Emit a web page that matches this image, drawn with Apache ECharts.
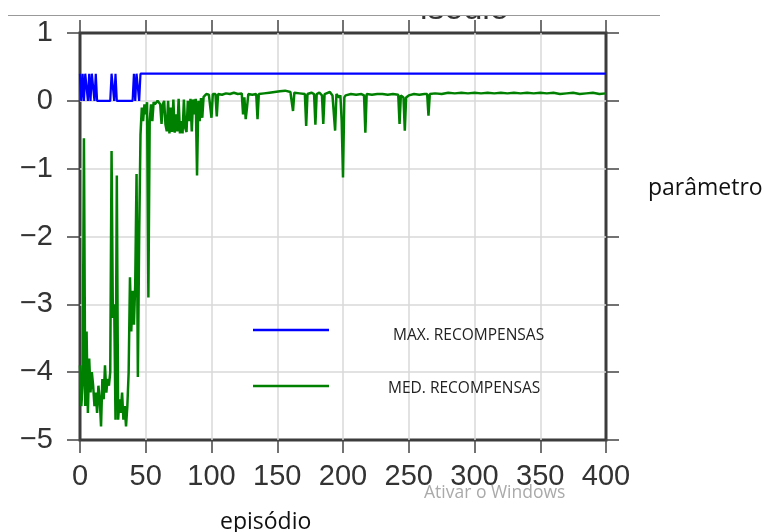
<!DOCTYPE html>
<html>
<head>
<meta charset="utf-8">
<script src="https://cdn.jsdelivr.net/npm/echarts@6/dist/echarts.min.js"></script>
<style>
    html, body { margin: 0; padding: 0; background: #fff; }
    #chart { width: 764px; height: 532px; }
</style>
</head>
<body>
<div id="chart"></div>
<script>
'use strict';

// [episódio, valor]
const maxRecompensas = [
    [0, 0.4], [1, 0], [2, 0.4], [3, 0], [4, 0.4], [5, 0.4], [6, 0], [7, 0.4], [8, 0], [9, 0.4],
    [10, 0.4], [11, 0], [12, 0.4], [13, 0], [23, 0], [24, 0.4], [25, 0.4], [26, 0], [27, 0.4],
    [28, 0], [40, 0], [41, 0.4], [42, 0], [43, 0.4], [44, 0.4], [45, 0], [46, 0.4], [400, 0.4]
];

const medRecompensas = [
    [0, -3.9], [1, -4.5], [2, -4.2], [3, -0.55], [4, -4.5], [5, -3.4], [6, -4.6], [7, -3.8], [8, -4.3], [9, -4.0],
    [10, -4.2], [11, -4.5], [12, -4.3], [13, -4.6], [14, -4.2], [15, -4.4], [16, -4.8], [17, -4.1], [18, -4.4], [19, -3.9],
    [20, -4.3], [21, -4.1], [22, -4.2], [23, -4.0], [24, -0.74], [25, -3.2], [26, -3.0], [27, -4.7], [28, -1.1], [29, -4.7],
    [30, -4.4], [31, -4.6], [32, -4.3], [33, -4.7], [34, -4.5], [35, -4.8], [36, -4.5], [37, -4.0], [38, -2.6], [39, -3.4],
    [40, -2.8], [41, -3.3], [42, -2.7], [43, -1.08], [44, -4.07], [45, -2.0], [46, -0.5], [47, -0.1], [48, -0.3], [49, -0.05],
    [50, -0.2], [51, -0.02], [52, -2.9], [53, -0.3], [54, -0.05], [55, -0.3], [56, -0.02], [57, -0.05], [58, -0.03], [59, 0.0],
    [60, -0.02], [61, -0.05], [62, -0.34], [63, -0.05], [64, 0.0], [65, -0.35], [66, -0.45], [67, 0.0], [68, -0.48], [69, -0.1],
    [70, -0.46], [71, 0.02], [72, -0.47], [73, -0.2], [74, -0.45], [75, 0.03], [76, -0.48], [77, -0.3], [78, -0.48], [79, 0.02],
    [80, -0.4], [81, -0.46], [82, 0.0], [83, -0.3], [84, 0.03], [85, -0.45], [86, 0.02], [87, -0.2], [88, 0.03], [89, -1.1],
    [90, 0.0], [91, -0.3], [92, 0.04], [93, -0.25], [94, 0.06], [95, 0.08], [96, 0.1], [97, 0.08], [98, 0.09], [99, 0.1],
    [100, -0.25], [101, 0.1], [102, 0.09], [103, 0.1], [104, -0.23], [105, 0.1], [108, 0.09], [111, 0.11], [114, 0.1], [117, 0.12],
    [120, 0.1], [123, 0.11], [124, -0.2], [125, 0.05], [126, -0.27], [127, -0.1], [128, 0.1], [131, 0.09], [134, 0.1], [135, -0.27],
    [136, 0.1], [140, 0.11], [144, 0.12], [148, 0.13], [152, 0.14], [156, 0.15], [160, 0.13], [161, 0.12], [162, -0.15], [163, 0.12],
    [167, 0.11], [171, 0.1], [172, -0.37], [173, 0.1], [176, 0.12], [178, 0.1], [179, -0.35], [180, 0.1], [182, 0.12], [184, 0.08],
    [185, -0.34], [186, 0.1], [190, 0.13], [192, 0.08], [193, 0.1], [194, -0.44], [195, 0.1], [197, 0.05], [198, 0.08], [199, -0.3],
    [200, -1.13], [201, 0.05], [202, 0.08], [206, 0.1], [210, 0.09], [214, 0.1], [216, 0.08], [217, -0.47], [218, 0.1], [222, 0.09],
    [226, 0.1], [230, 0.1], [234, 0.09], [238, 0.1], [242, 0.09], [243, -0.34], [244, 0.08], [246, 0.05], [247, -0.44], [248, 0.05],
    [250, 0.08], [254, 0.1], [258, 0.09], [262, 0.1], [264, 0.1], [265, -0.22], [266, 0.1], [270, 0.11], [275, 0.1], [280, 0.12],
    [285, 0.11], [290, 0.12], [295, 0.11], [300, 0.12], [305, 0.11], [310, 0.12], [315, 0.11], [320, 0.12], [325, 0.11], [330, 0.12],
    [335, 0.11], [340, 0.12], [345, 0.11], [350, 0.12], [355, 0.11], [360, 0.12], [365, 0.1], [370, 0.11], [375, 0.12], [380, 0.1],
    [385, 0.11], [390, 0.12], [395, 0.1], [400, 0.11]
];

const nomes = ['MAX. RECOMPENSAS', 'MED. RECOMPENSAS'];

const tickFont = {
    fontFamily: 'Liberation Sans',
    fontSize: 29,
    color: '#333'
};

function fmtNum(v) {
    return v < 0 ? '\u2212' + (-v) : String(v);
}

const chart = echarts.init(document.getElementById('chart'), null, { renderer: 'canvas' });

const tickStyle = { show: true, inside: false, length: 13, lineStyle: { color: '#444', width: 1.5 } };
const gridLine = { show: true, showMinLine: false, showMaxLine: false, lineStyle: { color: '#d8d8d8', width: 1.5 } };
const legendText = { fontFamily: 'Open Sans', fontSize: 15.5, lineHeight: 20, color: '#222' };

// ícone da legenda: traço no alto de uma caixa, para o texto ficar um pouco abaixo do traço
const iconMax = 'path://M0,0H76V2.5H0Z M0,14.5h0.01v0.01h-0.01Z';
const iconMed = 'path://M0,0H76V2.5H0Z M0,8.5h0.01v0.01h-0.01Z';

const option = {
    backgroundColor: '#fff',
    animation: false,
    grid: {
        left: 80, right: 158, top: 33, bottom: 92,
        show: true,
        borderColor: '#3c3c3c',
        borderWidth: 3,
        backgroundColor: '#fff'
    },
    legend: [{
        data: [{ name: nomes[0], icon: iconMax }],
        left: 253, top: 326,
        padding: 0,
        itemWidth: 76, itemHeight: 14.51,
        textStyle: Object.assign({ padding: [0, 0, 0, 59] }, legendText)
    }, {
        data: [{ name: nomes[1], icon: iconMed }],
        left: 253, top: 379,
        padding: 0,
        itemWidth: 76, itemHeight: 8.51,
        textStyle: Object.assign({ padding: [0, 0, 0, 54] }, legendText)
    }],
    xAxis: [{
        type: 'value',
        min: 0, max: 400, interval: 50,
        axisLine: { show: false, onZero: false },
        axisTick: tickStyle,
        axisLabel: Object.assign({ margin: 22 }, tickFont),
        splitLine: gridLine
    }, {
        type: 'value',
        position: 'top',
        min: 0, max: 400, interval: 50,
        axisLine: { show: false, onZero: false },
        axisTick: tickStyle,
        axisLabel: { show: false },
        splitLine: { show: false }
    }],
    yAxis: [{
        type: 'value',
        min: -5, max: 1, interval: 1,
        axisLine: { show: false, onZero: false },
        axisTick: tickStyle,
        axisLabel: Object.assign({ margin: 27, formatter: fmtNum }, tickFont),
        splitLine: gridLine
    }, {
        type: 'value',
        position: 'right',
        min: -5, max: 1, interval: 1,
        axisLine: { show: false, onZero: false },
        axisTick: tickStyle,
        axisLabel: { show: false },
        splitLine: { show: false }
    }],
    series: [{
        name: nomes[0],
        type: 'line',
        data: maxRecompensas,
        symbol: 'none',
        lineStyle: { color: '#0000ff', width: 2.2 },
        itemStyle: { color: '#0000ff' },
        z: 3
    }, {
        name: nomes[1],
        type: 'line',
        data: medRecompensas,
        symbol: 'none',
        lineStyle: { color: '#008000', width: 2.5 },
        itemStyle: { color: '#008000' },
        z: 2
    }],
    graphic: [
        // título cortado no topo
        { type: 'text', left: 420, top: -7, z: 10, style: { text: 'isodio', font: '34px "Liberation Sans"', fill: '#333' } },
        { type: 'rect', shape: { x: 0, y: 0, width: 764, height: 15 }, z: 11, style: { fill: '#fff' } },
        { type: 'line', shape: { x1: 8, y1: 15.5, x2: 660, y2: 15.5 }, z: 12, style: { stroke: '#999', lineWidth: 1 } },
        { type: 'text', left: 648, top: 177, style: { text: 'parâmetro', font: '23px "Open Sans"', fill: '#111' } },
        { type: 'text', left: 220, top: 511, style: { text: 'episódio', font: '23px "Open Sans"', fill: '#111' } },
        { type: 'text', left: 424, top: 484, z: 20, style: { text: 'Ativar o Windows', font: '17.5px "Open Sans"', fill: '#aaa' } }
    ]
};

chart.setOption(option);
</script>
</body>
</html>
